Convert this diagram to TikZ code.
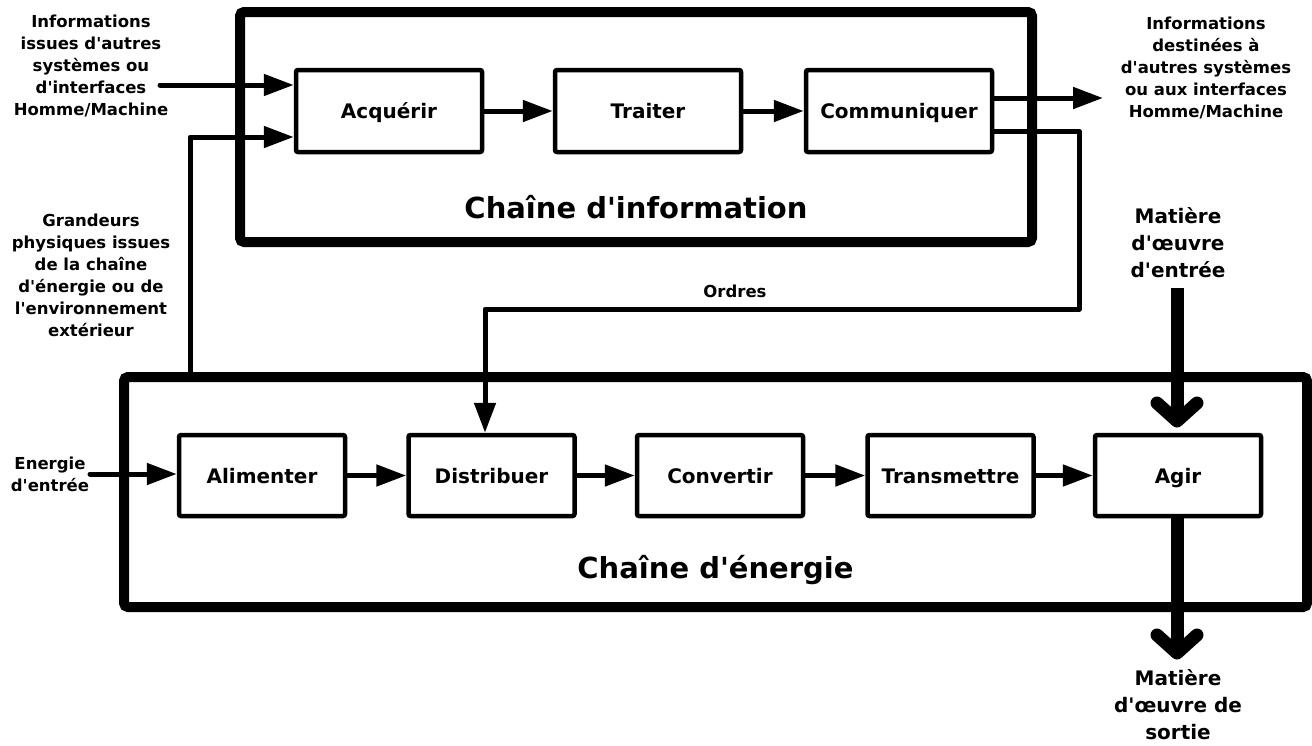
\documentclass[tikz,border=0pt]{standalone}
\usepackage{fontspec}
\setmainfont{DejaVu Sans}[Ligatures=TeXOff]
\usetikzlibrary{arrows.meta,calc}
\tikzset{
  blk/.style={draw, line width=4.5pt, rounded corners=2pt, minimum width=186pt, minimum height=82pt, font=\fontsize{20}{24}\selectfont\bfseries, inner sep=0pt, text height=19pt, text depth=4pt},
  eblk/.style={blk, minimum width=166pt, minimum height=81pt},
  frame/.style={draw, line width=10pt, rounded corners=4pt, inner sep=0pt},
  lbl/.style={align=center, font=\fontsize{16.5}{22}\selectfont\bfseries, inner sep=0pt},
  biglbl/.style={align=center, font=\fontsize{20}{27}\selectfont\bfseries, inner sep=0pt},
  title/.style={font=\fontsize{29}{34}\selectfont\bfseries, inner sep=0pt},
  con/.style={line width=5pt, line cap=round, line join=round},
  arr/.style={con, -{Triangle[length=30pt,width=21pt]}},
  shaft/.style={line width=13pt, line cap=butt},
  matiere/.style={line width=13pt, line cap=round, line join=round},
}
\begin{document}
\begin{tikzpicture}[x=1pt,y=-1pt]
\useasboundingbox (0,0) rectangle (1312,745);
% frames
\node[frame, minimum width=792pt, minimum height=230pt] (ichain) at (636,127) {};
\node[frame, minimum width=1183pt, minimum height=230pt] (echain) at (715.5,492) {};
\node[title] (ititle) at (636,207) {Chaîne d'information};
\node[title] (etitle) at (715.5,570) {Chaîne d'énergie};
% info blocks
\node[blk] (acq) at (389,111) {Acquérir};
\node[blk] (trt) at (648,111) {Traiter};
\node[blk] (com) at (899,111) {Communiquer};
% energy blocks
\node[eblk] (alim) at (262,475.5) {Alimenter};
\node[eblk] (dist) at (491.5,475.5) {Distribuer};
\node[eblk] (conv) at (720,475.5) {Convertir};
\node[eblk] (trans) at (950.5,475.5) {Transmettre};
\node[eblk] (agir) at (1178,475.5) {Agir};
% labels
\node[lbl] (linfo) at (91,66) {Informations\\issues d'autres\\systèmes ou\\d'interfaces\\Homme/Machine};
\node[lbl] (rinfo) at (1206,68) {Informations\\destinées à\\d'autres systèmes\\ou aux interfaces\\Homme/Machine};
\node[lbl] (lgr) at (91,275) {Grandeurs\\physiques issues\\de la chaîne\\d'énergie ou de\\l'environnement\\extérieur};
\node[lbl] (lene) at (50,474) {Energie\\d'entrée};
\node[lbl] (lord) at (735,291) {Ordres};
\node[biglbl] (min) at (1178,243) {Matière\\d'œuvre\\d'entrée};
\node[biglbl] (mout) at (1178,705) {Matière\\d'œuvre de\\sortie};
% coordinates
\coordinate (inA) at (160,85);
\coordinate (gr) at (190,377);
\coordinate (outA) at (1103,98);
\coordinate (ordA) at (1079,131);
\coordinate (ordB) at (485,309);
\coordinate (eneA) at (90,474);
% info chain connectors
\draw[arr] (inA) -- (inA -| acq.west);
\draw[arr] (gr) -- (gr |- 0,137) -- (acq.west |- 0,137);
\draw[arr] (acq) -- (trt);
\draw[arr] (trt) -- (com);
\draw[arr] (com.east |- outA) -- (outA);
\draw[arr] (com.east |- ordA) -- (ordA) -- (ordA |- ordB) -- (ordB) -- (ordB |- dist.north);
% energy chain connectors
\draw[arr] (eneA) -- (alim.west |- eneA);
\draw[arr] (alim) -- (dist);
\draw[arr] (dist) -- (conv);
\draw[arr] (conv) -- (trans);
\draw[arr] (trans) -- (agir);
% matiere arrows
\coordinate (mA) at (1177,288);
\coordinate (mAtip) at (1177,421);
\coordinate (mBtip) at (1177,653);
\draw[shaft] (mA) -- (mAtip);
\draw[matiere] ($(mAtip)+(-20,-18)$) -- (mAtip) -- ($(mAtip)+(20,-18)$);
\draw[shaft] (agir.south -| mBtip) -- (mBtip);
\draw[matiere] ($(mBtip)+(-20,-18)$) -- (mBtip) -- ($(mBtip)+(20,-18)$);
\end{tikzpicture}
\end{document}
